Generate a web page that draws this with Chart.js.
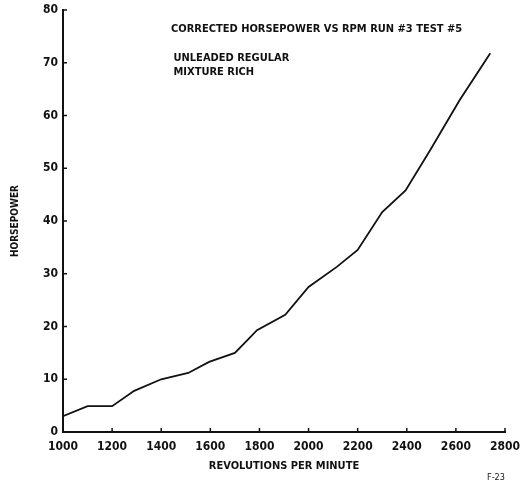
<!DOCTYPE html>
<html>
<head>
<meta charset="utf-8">
<script src="https://cdn.jsdelivr.net/npm/chart.js@4/dist/chart.umd.min.js"></script>
<style>
html,body{margin:0;padding:0;background:#fff;}
#wrap{width:524px;height:482px;}
</style>
</head>
<body>
<div id="wrap"><canvas id="c" width="524" height="482"></canvas></div>
<script>
// Data
const rpm = [1000, 1100, 1200, 1290, 1400, 1510, 1595, 1700, 1755, 1790, 1905, 2000, 2115, 2200, 2300, 2395, 2495, 2615, 2740];
const horsepower = [3.0, 4.9, 4.9, 7.8, 10.0, 11.2, 13.3, 15.0, 17.6, 19.3, 22.2, 27.5, 31.3, 34.5, 41.7, 45.8, 53.4, 62.9, 71.8];
const xTicks = [1000, 1200, 1400, 1600, 1800, 2000, 2200, 2400, 2600, 2800];
const yTicks = [0, 10, 20, 30, 40, 50, 60, 70, 80];
const titleLines = ["CORRECTED HORSEPOWER VS RPM RUN #3 TEST #5"];
const noteLines = ["UNLEADED REGULAR", "MIXTURE RICH"];
const xTitle = "REVOLUTIONS PER MINUTE";
const yTitle = "HORSEPOWER";
const figId = "F-23";

const FONT = "'Liberation Sans Narrow', 'DejaVu Sans Condensed', 'Liberation Sans', Arial, sans-serif";
const INK = '#111';

const points = rpm.map((r, i) => ({x: r, y: horsepower[i]}));

const decor = {
  id: 'decor',
  afterDraw(chart) {
    const ctx = chart.ctx;
    const xs = chart.scales.x, ys = chart.scales.y;
    const a = chart.chartArea;
    ctx.save();
    ctx.strokeStyle = INK;
    ctx.lineWidth = 1.5;
    // inward tick marks
    yTicks.forEach(v => {
      const p = ys.getPixelForValue(v);
      ctx.beginPath(); ctx.moveTo(a.left, p); ctx.lineTo(a.left + 4, p); ctx.stroke();
    });
    xTicks.forEach(v => {
      const p = xs.getPixelForValue(v);
      ctx.beginPath(); ctx.moveTo(p, a.bottom); ctx.lineTo(p, a.bottom - 4); ctx.stroke();
    });
    // annotations
    ctx.fillStyle = INK;
    ctx.textAlign = 'left';
    ctx.textBaseline = 'alphabetic';
    ctx.font = "bold 11px " + FONT;
    titleLines.forEach((t, i) => ctx.fillText(t, xs.getPixelForValue(1440), ys.getPixelForValue(75.9) + i * 14));
    noteLines.forEach((t, i) => ctx.fillText(t, xs.getPixelForValue(1450), ys.getPixelForValue(70.4) + i * 14));
    ctx.font = "9px " + FONT;
    ctx.fillText(figId, 487, 480);
    ctx.restore();
  }
};

new Chart(document.getElementById('c'), {
  type: 'line',
  data: {
    datasets: [{
      data: points,
      borderColor: INK,
      borderWidth: 1.8,
      pointRadius: 0,
      tension: 0,
      fill: false
    }]
  },
  options: {
    responsive: false,
    animation: false,
    devicePixelRatio: 1,
    layout: {padding: {left: 0, right: 19, top: 10, bottom: 0}},
    plugins: {legend: {display: false}, tooltip: {enabled: false}},
    scales: {
      x: {
        type: 'linear',
        min: 1000, max: 2800,
        afterBuildTicks: s => { s.ticks = xTicks.map(v => ({value: v})); },
        afterFit: s => { s.height = 50; s.paddingRight = 0; s.paddingLeft = 0; },
        grid: {display: false, drawTicks: false},
        border: {display: true, color: INK, width: 2},
        ticks: {color: INK, padding: 8, maxRotation: 0, callback: v => String(v), font: {family: FONT, size: 12, weight: 'bold'}},
        title: {display: true, text: xTitle, color: INK, padding: {top: 0, bottom: 9}, font: {family: FONT, size: 11, weight: 'bold'}}
      },
      y: {
        type: 'linear',
        min: 0, max: 80,
        afterBuildTicks: s => { s.ticks = yTicks.map(v => ({value: v})); },
        afterFit: s => { s.width = 63; s.paddingTop = 0; s.paddingBottom = 0; },
        grid: {display: false, drawTicks: false},
        border: {display: true, color: INK, width: 2},
        ticks: {color: INK, padding: 5, callback: v => String(v), font: {family: FONT, size: 12, weight: 'bold'}},
        title: {display: true, text: yTitle, color: INK, padding: {top: 9, bottom: 0}, font: {family: FONT, size: 10, weight: 'bold'}}
      }
    }
  },
  plugins: [decor]
});
</script>
</body>
</html>
